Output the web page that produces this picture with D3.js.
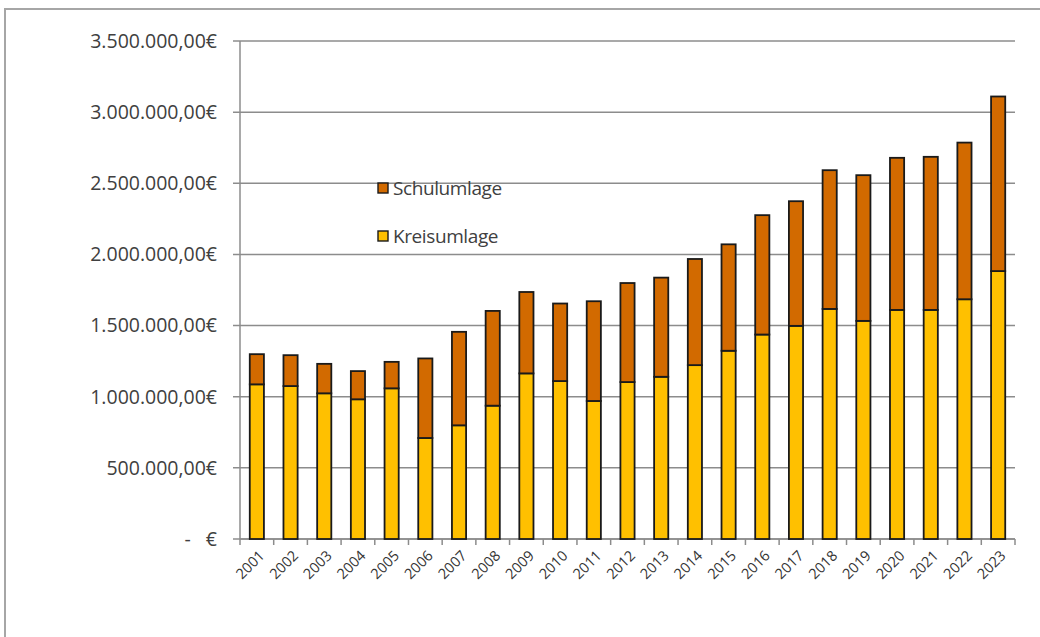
<!DOCTYPE html>
<html>
<head>
<meta charset="utf-8">
<script src="https://cdn.jsdelivr.net/npm/d3@7"></script>
<style>
  body { margin: 0; background: #fff; }
  svg { display: block; }
</style>
</head>
<body>
<div id="chart"></div>
<script>
const width = 1040;
const height = 637;

// Jahre
const years = ["2001", "2002", "2003", "2004", "2005", "2006", "2007", "2008", "2009", "2010", "2011", "2012",
  "2013", "2014", "2015", "2016", "2017", "2018", "2019", "2020", "2021", "2022", "2023"];

// Kreisumlage (unterer Teil)
const kreisumlage = [1087000, 1075000, 1024000, 982000, 1059000, 710000, 799000, 937000, 1164000, 1110000, 970000, 1103000,
  1140000, 1222000, 1323000, 1437000, 1498000, 1617000, 1533000, 1610000, 1610000, 1685000, 1883000];

// Schulumlage (oberer Teil) = Gesamt - Kreisumlage
const gesamt = [1299000, 1292000, 1231000, 1180000, 1245000, 1269000, 1456000, 1603000, 1736000, 1655000, 1671000, 1799000,
  1837000, 1968000, 2071000, 2276000, 2374000, 2592000, 2557000, 2679000, 2686000, 2786000, 3110000];
const schulumlage = gesamt.map((g, i) => g - kreisumlage[i]);

const yTicks = [0, 500000, 1000000, 1500000, 2000000, 2500000, 3000000, 3500000];
const yTickLabels = ["-\u00a0\u00a0\u00a0€", "500.000,00€", "1.000.000,00€", "1.500.000,00€", "2.000.000,00€",
  "2.500.000,00€", "3.000.000,00€", "3.500.000,00€"];

const seriesNames = ["Kreisumlage", "Schulumlage"];
const colors = { Kreisumlage: "#ffc000", Schulumlage: "#d26a00" };

const margin = { left: 240, right: 25, top: 41, bottom: 98 };

const x = d3.scaleBand()
    .domain(years)
    .range([margin.left, width - margin.right])
    .paddingInner(0.58)
    .paddingOuter(0.29);

const y = d3.scaleLinear()
    .domain([0, 3500000])
    .range([height - margin.bottom, margin.top]);

const rows = years.map((yr, i) => ({ year: yr, Kreisumlage: kreisumlage[i], Schulumlage: schulumlage[i] }));
const stacked = d3.stack().keys(seriesNames)(rows);

const svg = d3.select("#chart").append("svg")
    .attr("width", width)
    .attr("height", height);

// Rahmen
svg.append("rect")
    .attr("x", 5).attr("y", 9)
    .attr("width", width + 10).attr("height", height + 10)
    .attr("fill", "none")
    .attr("stroke", "#a6a6a6")
    .attr("stroke-width", 2);

// Gitterlinien
svg.append("g")
  .selectAll("line")
  .data(yTicks)
  .join("line")
    .attr("x1", margin.left - 7)
    .attr("x2", width - margin.right)
    .attr("y1", d => y(d))
    .attr("y2", d => y(d))
    .attr("stroke", "#8c8c8c")
    .attr("stroke-width", 1.5);

// y-Achse
svg.append("line")
    .attr("x1", margin.left).attr("x2", margin.left)
    .attr("y1", y(3500000)).attr("y2", y(0))
    .attr("stroke", "#8c8c8c")
    .attr("stroke-width", 1.5);

svg.append("g")
    .style("font", "19.5px 'Open Sans', sans-serif")
    .attr("fill", "#404040")
    .attr("text-anchor", "end")
  .selectAll("text")
  .data(yTicks)
  .join("text")
    .attr("x", 217)
    .attr("y", d => y(d))
    .attr("dy", "0.35em")
    .text((d, i) => yTickLabels[i]);

// x-Achse
const xAxis = svg.append("g")
    .attr("transform", `translate(0,${y(0)})`);

xAxis.append("line")
    .attr("x1", margin.left).attr("x2", width - margin.right)
    .attr("stroke", "#8c8c8c").attr("stroke-width", 1.5);

xAxis.selectAll("line.tick")
  .data(d3.range(years.length + 1))
  .join("line")
    .attr("class", "tick")
    .attr("x1", i => margin.left + i * (width - margin.left - margin.right) / years.length)
    .attr("x2", i => margin.left + i * (width - margin.left - margin.right) / years.length)
    .attr("y1", 0).attr("y2", 6)
    .attr("stroke", "#8c8c8c").attr("stroke-width", 1.5);

xAxis.selectAll("text")
  .data(years)
  .join("text")
    .attr("transform", d => `translate(${x(d) + x.bandwidth() / 2 + 5},14) rotate(-45)`)
    .attr("text-anchor", "end")
    .attr("dy", "0.35em")
    .style("font", "14.5px 'Open Sans', sans-serif")
    .attr("fill", "#333")
    .text(d => d);

// Balken
svg.append("g")
  .selectAll("g")
  .data(stacked)
  .join("g")
    .attr("fill", d => colors[d.key])
  .selectAll("rect")
  .data(d => d)
  .join("rect")
    .attr("x", d => x(d.data.year))
    .attr("y", d => y(d[1]))
    .attr("width", x.bandwidth())
    .attr("height", d => y(d[0]) - y(d[1]))
    .attr("stroke", "#1a1a1a")
    .attr("stroke-width", 1.8);

// Legende
const legend = svg.append("g")
    .style("font", "19px 'Open Sans', sans-serif")
    .attr("fill", "#404040");

const legendItems = ["Schulumlage", "Kreisumlage"];
const legendY = [188, 236];

legend.selectAll("rect")
  .data(legendItems)
  .join("rect")
    .attr("x", 378)
    .attr("y", (d, i) => legendY[i] - 5)
    .attr("width", 10).attr("height", 10)
    .attr("fill", d => colors[d])
    .attr("stroke", "#1a1a1a")
    .attr("stroke-width", 1.4);

legend.selectAll("text")
  .data(legendItems)
  .join("text")
    .attr("x", 393)
    .attr("y", (d, i) => legendY[i])
    .attr("dy", "0.35em")
    .attr("letter-spacing", "-0.4")
    .text(d => d);
</script>
</body>
</html>
